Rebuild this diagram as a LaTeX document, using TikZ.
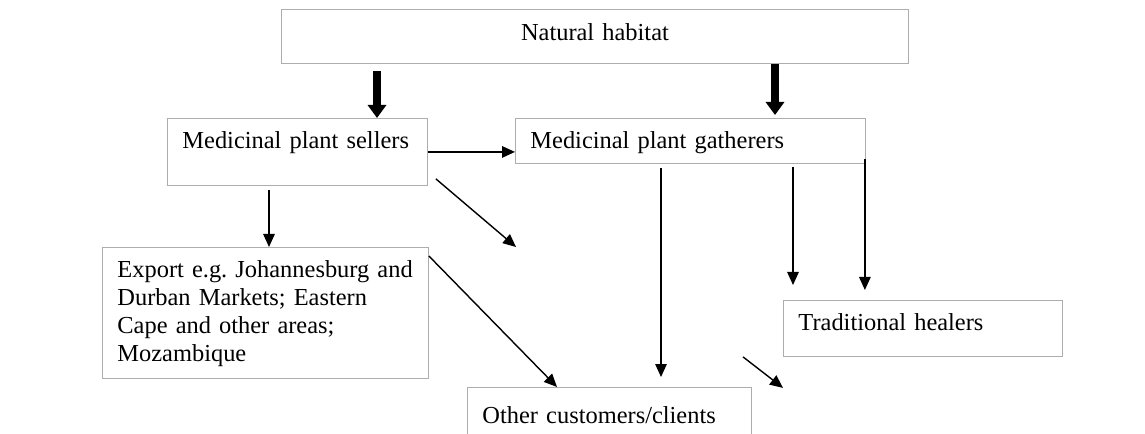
\documentclass[tikz,border=0pt]{standalone}
\usepackage{fontspec}
\setmainfont{Liberation Serif}
\usetikzlibrary{arrows.meta,calc,positioning}
\frenchspacing
\tikzset{
  box/.style     = {draw=black!32, line width=0.5pt, anchor=north west, align=left,
                    inner ysep=0pt, inner xsep=3mm, text height=6mm,
                    font=\fontsize{13.9}{15.9}\selectfont},
  flow/.style    = {-{Triangle[length=2.6mm,width=2.3mm]}, line width=0.8pt},
  bigflow/.style = {-{Triangle[length=2.6mm,width=3.6mm]}, line width=4pt},
}

\begin{document}
\begin{tikzpicture}[x=0.2mm,y=-0.2mm]
  \useasboundingbox (0,0) rectangle (1145,434);
  \clip (0,0) rectangle (1145,434);
  % boxes
  \node[box, text width=125.4mm, inner xsep=0pt, align=center, text height=6.2mm,
        text depth=4.6mm] (habitat) at (281,9) {Natural habitat};
  \node[box, text width=46mm, text depth=7.4mm] (sellers) at (167,118) {Medicinal plant sellers};
  \node[box, text width=64mm, text depth=3mm] (gatherers) at (515,118) {Medicinal plant gatherers};
  \node[box, text width=59.2mm, text depth=20.2mm] (export) at (102,247)
      {Export e.g.\ Johannesburg and\\ Durban Markets; Eastern\\ Cape and other areas;\\ Mozambique};
  \node[box, text width=49.8mm, text depth=5.2mm] (healers) at (783,300) {Traditional healers};
  \node[box, text width=50.8mm, text height=7.2mm, text depth=6mm] (other) at (467,387)
      {Other customers/clients};
  % flows
  \draw[bigflow] ($(habitat.south west)+(96,7)$) coordinate (h1) -- (h1 |- sellers.north);
  \draw[bigflow] ($(habitat.south west)+(494,0)$) coordinate (h2) -- ($(h2 |- gatherers.north)+(0,-3)$);
  \draw[flow] (sellers.east) -- (sellers.east -| gatherers.west);
  \draw[flow] ($(sellers.south west)+(102,4)$) coordinate (s1) -- (s1 |- export.north);
  \coordinate (loose1) at (516,247);
  \draw[flow] ($(sellers.south east)+(8,-7)$) -- (loose1);
  \draw[flow] ($(export.north east)+(0,9)$) -- ($(other.north west)+(90,0)$);
  \draw[flow, shorten >=2mm] ($(gatherers.south west)+(146,4)$) coordinate (g1) -- (g1 |- other.north);
  \draw[flow, shorten >=3mm] ($(gatherers.south west)+(278,3)$) coordinate (g2) -- (g2 |- healers.north);
  \draw[flow, shorten >=2mm] ($(gatherers.south east)+(-1,-5)$) coordinate (g3) -- (g3 |- healers.north);
  \coordinate (loose2) at ($(healers.south west)+(-40,0)$);
  \coordinate (loose3) at ($(healers.south west)+(0,31)$);
  \draw[flow] (loose2) -- (loose3);
\end{tikzpicture}
\end{document}
